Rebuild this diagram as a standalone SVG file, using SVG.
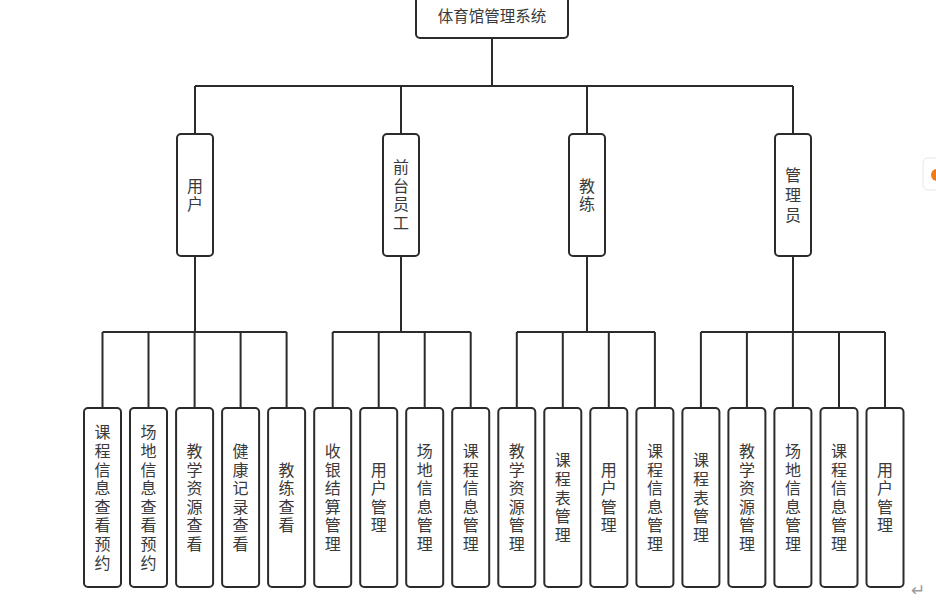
<svg xmlns="http://www.w3.org/2000/svg" width="936" height="605" viewBox="0 0 936 605">
<style>
.box{fill:#fff;stroke:#2b2b2b;stroke-width:2}
.t{font-family:"Noto Sans CJK SC","Noto Sans",sans-serif;font-size:16px;fill:#3a3a3a;text-anchor:middle;dominant-baseline:central}
.v{font-family:"Noto Sans CJK SC","Noto Sans",sans-serif;font-size:16px;fill:#3a3a3a;text-anchor:middle;writing-mode:vertical-rl;letter-spacing:2.6px}
.c{fill:none;stroke:#2b2b2b;stroke-width:2}
</style>
<rect width="936" height="605" fill="#fff"/>
<g id="connectors">
<path class="c" d="M492 38V86M195 86H793M195 86V134M401 86V134M587 86V134M793 86V134"/>
<path class="c" d="M195 256V332M102.5 332H286.6M102.5 332V408M148.5 332V408M194.6 332V408M240.6 332V408M286.6 332V408"/>
<path class="c" d="M401 256V332M332.7 332H470.7M332.7 332V408M378.7 332V408M424.7 332V408M470.7 332V408"/>
<path class="c" d="M587 256V332M516.8 332H654.9M516.8 332V408M562.8 332V408M608.8 332V408M654.9 332V408"/>
<path class="c" d="M793 256V332M700.9 332H885M700.9 332V408M746.9 332V408M792.9 332V408M839 332V408M885 332V408"/>
</g>
<g id="root"><rect class="box" x="416" y="-10" width="152" height="48" rx="4"/><text class="t" x="492" y="15" style="font-size:15.5px">体育馆管理系统</text></g>
<g id="n-user"><rect class="box" x="177" y="134" width="36" height="122" rx="4"/><text class="v" x="195" y="196.3">用户</text></g>
<g id="n-front"><rect class="box" x="383" y="134" width="36" height="122" rx="4"/><text class="v" x="401" y="196.3">前台员工</text></g>
<g id="n-coach"><rect class="box" x="569" y="134" width="36" height="122" rx="4"/><text class="v" x="587" y="196.3">教练</text></g>
<g id="n-admin"><rect class="box" x="775" y="134" width="36" height="122" rx="4"/><text class="v" x="793" y="197" style="letter-spacing:4px">管理员</text></g>

<g id="l0"><rect class="box" x="84" y="408" width="37" height="179" rx="4"/><text class="v" x="102.5" y="498.8">课程信息查看预约</text></g>
<g id="l1"><rect class="box" x="130" y="408" width="37" height="179" rx="4"/><text class="v" x="148.5" y="498.8">场地信息查看预约</text></g>
<g id="l2"><rect class="box" x="176.1" y="408" width="37" height="179" rx="4"/><text class="v" x="194.6" y="498.8">教学资源查看</text></g>
<g id="l3"><rect class="box" x="222.1" y="408" width="37" height="179" rx="4"/><text class="v" x="240.6" y="498.8">健康记录查看</text></g>
<g id="l4"><rect class="box" x="268.1" y="408" width="37" height="179" rx="4"/><text class="v" x="286.6" y="498.8">教练查看</text></g>
<g id="l5"><rect class="box" x="314.2" y="408" width="37" height="179" rx="4"/><text class="v" x="332.7" y="498.8">收银结算管理</text></g>
<g id="l6"><rect class="box" x="360.2" y="408" width="37" height="179" rx="4"/><text class="v" x="378.7" y="498.8">用户管理</text></g>
<g id="l7"><rect class="box" x="406.2" y="408" width="37" height="179" rx="4"/><text class="v" x="424.7" y="498.8">场地信息管理</text></g>
<g id="l8"><rect class="box" x="452.2" y="408" width="37" height="179" rx="4"/><text class="v" x="470.7" y="498.8">课程信息管理</text></g>
<g id="l9"><rect class="box" x="498.3" y="408" width="37" height="179" rx="4"/><text class="v" x="516.8" y="498.8">教学资源管理</text></g>
<g id="l10"><rect class="box" x="544.3" y="408" width="37" height="179" rx="4"/><text class="v" x="562.8" y="498.8">课程表管理</text></g>
<g id="l11"><rect class="box" x="590.3" y="408" width="37" height="179" rx="4"/><text class="v" x="608.8" y="498.8">用户管理</text></g>
<g id="l12"><rect class="box" x="636.4" y="408" width="37" height="179" rx="4"/><text class="v" x="654.9" y="498.8">课程信息管理</text></g>
<g id="l13"><rect class="box" x="682.4" y="408" width="37" height="179" rx="4"/><text class="v" x="700.9" y="498.8">课程表管理</text></g>
<g id="l14"><rect class="box" x="728.4" y="408" width="37" height="179" rx="4"/><text class="v" x="746.9" y="498.8">教学资源管理</text></g>
<g id="l15"><rect class="box" x="774.4" y="408" width="37" height="179" rx="4"/><text class="v" x="792.9" y="498.8">场地信息管理</text></g>
<g id="l16"><rect class="box" x="820.5" y="408" width="37" height="179" rx="4"/><text class="v" x="839" y="498.8">课程信息管理</text></g>
<g id="l17"><rect class="box" x="866.5" y="408" width="37" height="179" rx="4"/><text class="v" x="885" y="498.8">用户管理</text></g>

<text x="918" y="590" style="font-family:'DejaVu Sans',sans-serif;font-size:17px;fill:#9a9a9a;text-anchor:middle;dominant-baseline:central">↵</text>
<rect x="923" y="158" width="20" height="32" rx="5" fill="#fff" stroke="#e6e6e6" stroke-width="1"/>
<circle cx="937" cy="175" r="6" fill="#f07b14"/>
</svg>
